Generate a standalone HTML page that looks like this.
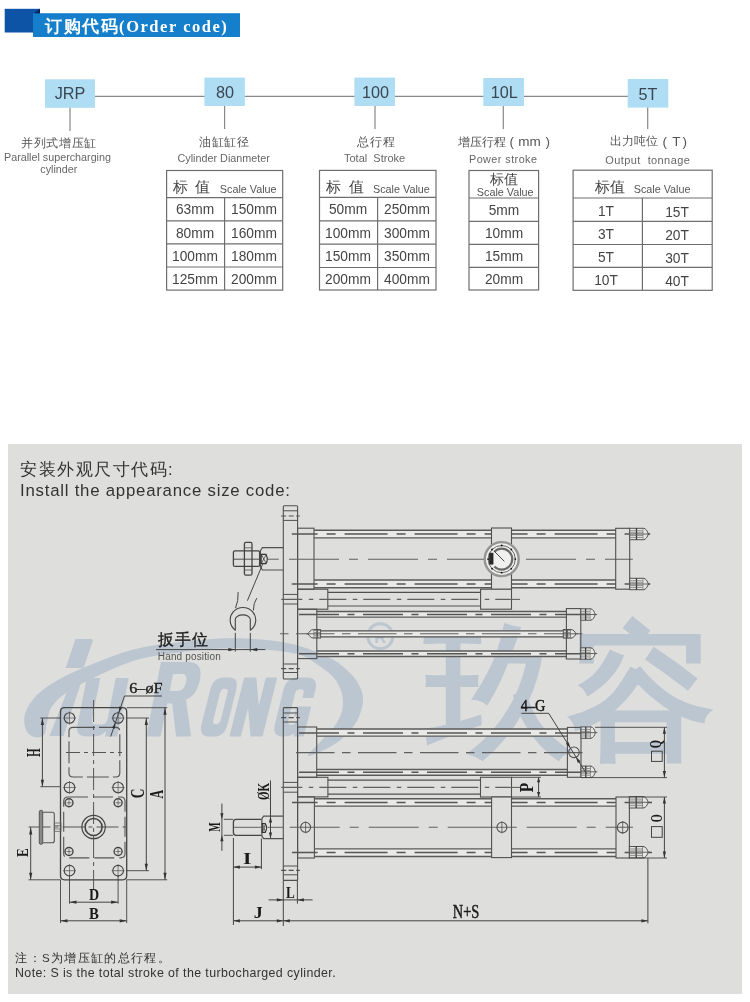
<!DOCTYPE html>
<html><head><meta charset="utf-8">
<style>
html,body{margin:0;padding:0;background:#fff;}
body{width:750px;height:1002px;overflow:hidden;position:relative;font-family:"Liberation Sans",sans-serif;}
svg{position:absolute;left:0;top:0;display:block;will-change:transform;}
.t{font-family:"Liberation Sans",sans-serif;}
.sf{font-family:"Liberation Serif",serif;}
</style></head>
<body>
<svg width="750" height="1002" viewBox="0 0 750 1002">
<!-- ===== HEADER ===== -->
<rect x="4.7" y="8.8" width="35.3" height="23.7" fill="#0d53a6"/>
<rect x="33" y="13.2" width="207" height="23.8" fill="#157fcb"/>
<polygon points="34,13.2 40,8.8 40,13.2" fill="#0b1f5c"/>
<text x="45" y="32" fill="#fff" font-size="16.5" font-weight="bold" class="sf" letter-spacing="1.53">订购代码(Order code)</text>

<!-- ===== ORDER CODE ===== -->
<g stroke="#888" stroke-width="1.2" fill="none">
<line x1="95" y1="96.4" x2="628" y2="96.4"/>
<line x1="70" y1="107" x2="70" y2="131"/>
<line x1="224.6" y1="106" x2="224.6" y2="129"/>
<line x1="375" y1="106" x2="375" y2="129"/>
<line x1="503.3" y1="106" x2="503.3" y2="129"/>
<line x1="647.7" y1="107" x2="647.7" y2="129"/>
</g>
<g fill="#afddf4">
<rect x="45" y="79.3" width="50" height="28.5"/>
<rect x="204.4" y="77.6" width="40.5" height="28.4"/>
<rect x="354.4" y="77.6" width="40.6" height="28.4"/>
<rect x="483.3" y="78" width="40.7" height="28"/>
<rect x="627.7" y="79" width="40.6" height="28.6"/>
</g>
<g class="t" fill="#3a4652" font-size="16.2" text-anchor="middle">
<text x="70" y="99.3">JRP</text>
<text x="225" y="98">80</text>
<text x="375.5" y="98">100</text>
<text x="504.3" y="98">10L</text>
<text x="648" y="99.5">5T</text>
</g>

<!-- captions -->
<g class="t" fill="#555" font-size="12">
<text x="21" y="146.6" letter-spacing="0.7">并列式增压缸</text>
<text x="199" y="145.7" letter-spacing="0.5">油缸缸径</text>
<text x="357.2" y="146.4" letter-spacing="0.8">总行程</text>
<text x="457.8" y="145.8">增压行程</text>
<text x="609.9" y="145">出力吨位</text>
<text x="509.5" y="146.2" font-size="13.5">(</text>
<text x="518.3" y="146" font-size="13.5">mm</text>
<text x="545.5" y="146.2" font-size="13.5">)</text>
<text x="662.5" y="145.5" font-size="13.5">(</text>
<text x="672.3" y="145.6" font-size="13.5">T</text>
<text x="682.5" y="145.5" font-size="13.5">)</text>
</g>
<g class="t" fill="#666" font-size="10.75">
<text x="4" y="161.2">Parallel supercharging</text>
<text x="40.3" y="173.2">cylinder</text>
<text x="177.5" y="161.6" font-size="10.8">Cylinder Dianmeter</text>
<text x="344" y="161.7" font-size="11" xml:space="preserve">Total  Stroke</text>
<text x="469" y="162.7" font-size="10.8" letter-spacing="0.45">Power stroke</text>
<text x="605.3" y="164.3" font-size="11" letter-spacing="0.4" xml:space="preserve">Output  tonnage</text>
</g>

<!-- tables -->
<g stroke="#6e6e6e" stroke-width="1.2" fill="none">
<rect x="166.6" y="170.5" width="116.1" height="119.6"/>
<line x1="166.6" y1="197.6" x2="282.7" y2="197.6"/>
<line x1="166.6" y1="220.8" x2="282.7" y2="220.8"/>
<line x1="166.6" y1="243.9" x2="282.7" y2="243.9"/>
<line x1="166.6" y1="267" x2="282.7" y2="267"/>
<line x1="224.6" y1="197.6" x2="224.6" y2="290.1"/>

<rect x="319.5" y="170.4" width="116.5" height="119.6"/>
<line x1="319.5" y1="197.4" x2="436" y2="197.4"/>
<line x1="319.5" y1="220.8" x2="436" y2="220.8"/>
<line x1="319.5" y1="244.2" x2="436" y2="244.2"/>
<line x1="319.5" y1="267.5" x2="436" y2="267.5"/>
<line x1="377.6" y1="197.4" x2="377.6" y2="290"/>

<rect x="469" y="170.5" width="69.6" height="119.5"/>
<line x1="469" y1="198" x2="538.6" y2="198"/>
<line x1="469" y1="221.4" x2="538.6" y2="221.4"/>
<line x1="469" y1="244.4" x2="538.6" y2="244.4"/>
<line x1="469" y1="267.3" x2="538.6" y2="267.3"/>

<rect x="573.1" y="170.2" width="139.1" height="120.1"/>
<line x1="573.1" y1="198" x2="712.2" y2="198"/>
<line x1="573.1" y1="221.4" x2="712.2" y2="221.4"/>
<line x1="573.1" y1="244.5" x2="712.2" y2="244.5"/>
<line x1="573.1" y1="267.3" x2="712.2" y2="267.3"/>
<line x1="642.4" y1="198" x2="642.4" y2="290.3"/>
</g>
<g class="t" fill="#444" font-size="14.5">
<text x="173" y="191.5" xml:space="preserve" letter-spacing="1.5">标 值</text>
<text x="325.6" y="191.5" xml:space="preserve" letter-spacing="2">标 值</text>
<text x="490" y="183.5" font-size="14">标值</text>
<text x="595" y="191.5">标值</text>
</g>
<g class="t" fill="#555" font-size="10.8">
<text x="219.8" y="192.7">Scale Value</text>
<text x="373" y="192.7">Scale Value</text>
<text x="476.8" y="195.5">Scale Value</text>
<text x="633.7" y="192.8">Scale Value</text>
</g>
<g class="t" fill="#444" font-size="13.75" text-anchor="middle">
<text x="195" y="214.4">63mm</text><text x="254" y="214.4">150mm</text>
<text x="195" y="237.6">80mm</text><text x="254" y="237.6">160mm</text>
<text x="195" y="260.7">100mm</text><text x="254" y="260.7">180mm</text>
<text x="195" y="283.8">125mm</text><text x="254" y="283.8">200mm</text>

<text x="348" y="214.4">50mm</text><text x="407" y="214.4">250mm</text>
<text x="348" y="237.6">100mm</text><text x="407" y="237.6">300mm</text>
<text x="348" y="260.9">150mm</text><text x="407" y="260.9">350mm</text>
<text x="348" y="284">200mm</text><text x="407" y="284">400mm</text>

<text x="504" y="214.8">5mm</text>
<text x="504" y="238">10mm</text>
<text x="504" y="261">15mm</text>
<text x="504" y="284">20mm</text>

<text x="606" y="215.7">1T</text><text x="677" y="217.2">15T</text>
<text x="606" y="238.8">3T</text><text x="677" y="240.3">20T</text>
<text x="606" y="261.8">5T</text><text x="677" y="263.3">30T</text>
<text x="606" y="284.6">10T</text><text x="677" y="286.1">40T</text>
</g>

<!-- ===== DRAWING PANEL ===== -->
<rect x="8" y="444" width="734" height="550" fill="#dededc"/>
<!--WM-->
<g fill="#bcc6d1" stroke="none">
<path d="M308,756 C309.67,756.83 323.67,750.5 330,747 C336.33,743.5 341.33,739.67 346,735 C350.67,730.33 355.17,724.67 358,719 C360.83,713.33 362.67,706.33 363,701 C363.33,695.67 362.17,691.67 360,687 C357.83,682.33 355,677.83 350,673 C345,668.17 339.67,662.83 330,658 C320.33,653.17 306.17,647.25 292,644 C277.83,640.75 260.33,639.17 245,638.5 C229.67,637.83 217.5,638.42 200,640 C182.5,641.58 157.5,644.17 140,648 C122.5,651.83 108.67,657.67 95,663 C81.33,668.33 67.83,674.5 58,680 C48.17,685.5 41.5,690.33 36,696 C30.5,701.67 26.67,708.33 25,714 C23.33,719.67 24.5,726.17 26,730 C27.5,733.83 31,736.17 34,737 C37,737.83 41.83,737.5 44,735 C46.17,732.5 45.5,727 47,722 C48.5,717 48.33,710.75 53,705 C57.67,699.25 62.17,694.67 75,687.5 C87.83,680.33 113.33,667.75 130,662 C146.67,656.25 159.67,655.25 175,653 C190.33,650.75 206.17,649 222,648.5 C237.83,648 257,648.92 270,650 C283,651.08 292,652.5 300,655 C308,657.5 312.33,661.17 318,665 C323.67,668.83 330,673.17 334,678 C338,682.83 340.67,688.5 342,694 C343.33,699.5 343.33,705.5 342,711 C340.67,716.5 337.67,721.83 334,727 C330.33,732.17 324.33,737.17 320,742 C315.67,746.83 306.33,755.17 308,756 Z"/>
<path d="M75.5,639 L91,639 Q93.5,639 92.6,641.5 L83.5,668 L65.7,668 Z"/>
<polygon points="70,684 80.5,684 63.5,736 49.5,736"/>
<path transform="translate(0,737) skewX(-11.31) translate(0,-737)" d="M75,678 L88.5,678 L88.5,719 Q88.5,724.5 94,724.5 L98.5,724.5 Q104,724.5 104,719 L104,678 L117,678 L117,736.5 L105,736.5 L105,731 Q101,736.5 93,736.5 L87,736.5 Q75,736.5 75,725 Z"/>
<path transform="translate(0,737) skewX(-11.31) translate(0,-737)" fill-rule="evenodd" d="M146,736.5 L146,662 L173,662 C183.5,662 188.5,668 188.5,680 C188.5,691 184.5,697 178.5,699.5 L191,736.5 L176,736.5 L165.5,703.5 L160.5,703.5 L160.5,736.5 Z M160.5,674 L170,674 C173.5,674 175,677 175,681.5 C175,687.5 173,691 169,691 L160.5,691 Z"/>
<path transform="translate(0,737) skewX(-14.04) translate(0,-737)" fill-rule="evenodd" d="M209,677.6 L214,677.6 Q224.4,677.6 224.4,690 L224.4,724 Q224.4,736.6 214,736.6 L209,736.6 Q198.4,736.6 198.4,724 L198.4,690 Q198.4,677.6 209,677.6 Z M212.7,688.8 Q209,688.8 209,693 L209,720 Q209,724.3 212.7,724.3 Q216.5,724.3 216.5,720 L216.5,693 Q216.5,688.8 212.7,688.8 Z"/>
<path transform="translate(0,737) skewX(-14.04) translate(0,-737)" d="M229.3,736.6 L229.3,677.6 L241.5,677.6 L251,706 L251,677.6 L262.4,677.6 L262.4,736.6 L250.5,736.6 L240.8,708 L240.8,736.6 Z"/>
<path transform="translate(0,737) skewX(-14.04) translate(0,-737)" fill-rule="evenodd" d="M283,677.6 L292,677.6 Q303.6,677.6 303.6,690 L303.6,698 L292.6,698 L292.6,693 Q292.6,689.3 288.4,689.3 Q284.2,689.3 284.2,693 L284.2,721 Q284.2,725 288.4,725 Q292.6,725 292.6,721 L292.6,716.5 L289,716.5 L289,706.5 L303.6,706.5 L303.6,736.6 L293.5,736.6 L293.5,733 Q290.5,736.6 283,736.6 Q271.7,736.6 271.7,724 L271.7,690 Q271.7,677.6 283,677.6 Z"/>
<circle cx="380.3" cy="636.2" r="12.5" fill="none" stroke="#bcc6d1" stroke-width="3"/>
<text x="380.3" y="642.5" font-family="Liberation Sans, sans-serif" font-weight="bold" font-size="17" text-anchor="middle">R</text>
<text x="425.2" y="744" font-family="Liberation Sans, sans-serif" font-weight="bold" font-size="147">玖</text>
<text x="567.7" y="743.6" font-family="Liberation Sans, sans-serif" font-weight="bold" font-size="147">容</text>
</g>
<!--/WM-->
<!--DRAW-->
<g stroke="#505050" stroke-width="1" fill="none" stroke-linecap="butt">
<rect x="314" y="530.2" width="301.7" height="7.6" fill="#e9e9e7" stroke="none"/>
<rect x="314" y="580" width="301.7" height="7.8" fill="#e9e9e7" stroke="none"/>
<rect x="316.8" y="611.6" width="249.6" height="5.6" fill="#e9e9e7" stroke="none"/>
<rect x="316.8" y="651" width="249.6" height="5.6" fill="#e9e9e7" stroke="none"/>
<rect x="320.6" y="630.8" width="242.7" height="6" fill="#e9e9e7" stroke="none"/>
<rect x="316.7" y="729" width="250.7" height="7.2" fill="#e9e9e7" stroke="none"/>
<rect x="316.7" y="769.5" width="250.7" height="5.7" fill="#e9e9e7" stroke="none"/>
<rect x="314.4" y="798.8" width="301.6" height="7.4" fill="#e9e9e7" stroke="none"/>
<rect x="314.4" y="848.8" width="301.6" height="7.6" fill="#e9e9e7" stroke="none"/>
<rect x="283.3" y="505.8" width="14.3" height="173.2" stroke-width="1.1" rx="1"/>
<line x1="283.3" y1="510.8" x2="297.6" y2="510.8"/>
<line x1="283.3" y1="520.4" x2="297.6" y2="520.4"/>
<line x1="283.3" y1="594.4" x2="297.6" y2="594.4"/>
<line x1="283.3" y1="604" x2="297.6" y2="604"/>
<line x1="283.3" y1="664" x2="297.6" y2="664"/>
<line x1="283.3" y1="672.5" x2="297.6" y2="672.5"/>
<line x1="281.2" y1="516" x2="299.8" y2="516" stroke-width="1.2" stroke-dasharray="5 2.5"/>
<line x1="281.2" y1="668.6" x2="299.8" y2="668.6" stroke-width="1.2" stroke-dasharray="5 2.5"/>
<rect x="297.6" y="528.2" width="16.4" height="61" stroke-width="1.1"/>
<line x1="314" y1="530.2" x2="491.5" y2="530.2" stroke-width="1.5" stroke="#5a5a5a"/>
<line x1="314" y1="537.8" x2="491.5" y2="537.8" stroke-width="1.3" stroke="#5a5a5a"/>
<line x1="314" y1="580" x2="491.5" y2="580" stroke-width="1.3" stroke="#5a5a5a"/>
<line x1="314" y1="587.8" x2="491.5" y2="587.8" stroke-width="1.5" stroke="#5a5a5a"/>
<line x1="511.5" y1="530.2" x2="615.7" y2="530.2" stroke-width="1.5" stroke="#5a5a5a"/>
<line x1="511.5" y1="537.8" x2="615.7" y2="537.8" stroke-width="1.3" stroke="#5a5a5a"/>
<line x1="511.5" y1="580" x2="615.7" y2="580" stroke-width="1.3" stroke="#5a5a5a"/>
<line x1="511.5" y1="587.8" x2="615.7" y2="587.8" stroke-width="1.5" stroke="#5a5a5a"/>
<line x1="291.8" y1="534" x2="491.5" y2="534" stroke-width="1.5" stroke="#555" stroke-dasharray="43 9 9 9" stroke-dashoffset="17.2"/>
<line x1="511.5" y1="534" x2="650" y2="534" stroke-width="1.5" stroke="#555" stroke-dasharray="43 9 9 9" stroke-dashoffset="26.9"/>
<line x1="291.8" y1="584" x2="491.5" y2="584" stroke-width="1.5" stroke="#555" stroke-dasharray="43 9 9 9" stroke-dashoffset="17.2"/>
<line x1="511.5" y1="584" x2="650" y2="584" stroke-width="1.5" stroke="#555" stroke-dasharray="43 9 9 9" stroke-dashoffset="26.9"/>
<line x1="267.6" y1="559.2" x2="278.8" y2="559.2" stroke="#606060"/>
<line x1="281" y1="559.2" x2="632.8" y2="559.2" stroke-width="1.1" stroke="#606060" stroke-dasharray="50 10 9 10" stroke-dashoffset="71"/>
<rect x="491.5" y="528" width="20" height="61.4" fill="#dededc" stroke-width="1.1"/>
<circle cx="501.7" cy="559.1" r="17" fill="#f0f0ef" stroke-width="2.4" stroke="#949494"/>
<circle cx="501.7" cy="559.1" r="13.6" stroke-width="0.9" stroke="#555"/>
<path d="M494.3,551.7 A10.5,10.5 0 1,1 494.3,566.5" stroke-width="2.2" stroke="#6a6a6a"/>
<line x1="494" y1="551" x2="504.3" y2="561.3" stroke-width="0.9" stroke="#333"/>
<rect x="489.6" y="553.2" width="3.4" height="10.9" fill="#2a2a2a" stroke-width="0.8" stroke="#222"/>
<circle cx="515.3" cy="559.1" r="0.9" fill="#111" stroke="none"/>
<circle cx="511.32" cy="568.72" r="0.9" fill="#111" stroke="none"/>
<circle cx="501.7" cy="572.7" r="0.9" fill="#111" stroke="none"/>
<circle cx="492.08" cy="568.72" r="0.9" fill="#111" stroke="none"/>
<circle cx="488.1" cy="559.1" r="0.9" fill="#111" stroke="none"/>
<circle cx="492.08" cy="549.48" r="0.9" fill="#111" stroke="none"/>
<circle cx="501.7" cy="545.5" r="0.9" fill="#111" stroke="none"/>
<circle cx="511.32" cy="549.48" r="0.9" fill="#111" stroke="none"/>
<rect x="615.7" y="528.3" width="14" height="60.9" stroke-width="1.1"/>
<rect x="629.7" y="528.3" width="13.6" height="11.4" fill="#e6e6e4"/>
<line x1="636.5" y1="528.3" x2="636.5" y2="539.7" stroke-width="1.3" stroke="#333"/>
<line x1="629.7" y1="530.8" x2="643.3" y2="530.8" stroke-width="0.7" stroke="#666"/>
<line x1="629.7" y1="532.8" x2="643.3" y2="532.8" stroke-width="0.7" stroke="#666"/>
<line x1="629.7" y1="535.4" x2="643.3" y2="535.4" stroke-width="0.7" stroke="#666"/>
<line x1="629.7" y1="537.4" x2="643.3" y2="537.4" stroke-width="0.7" stroke="#666"/>
<path d="M643.3,528.3 C646.05,528.3 647.55,531.49 648.3,534 C647.55,536.51 646.05,539.7 643.3,539.7" fill="#e6e6e4"/>
<line x1="629.7" y1="534" x2="650.3" y2="534" stroke-width="0.9" stroke="#555"/>
<rect x="629.7" y="578.3" width="13.6" height="11.4" fill="#e6e6e4"/>
<line x1="636.5" y1="578.3" x2="636.5" y2="589.7" stroke-width="1.3" stroke="#333"/>
<line x1="629.7" y1="580.8" x2="643.3" y2="580.8" stroke-width="0.7" stroke="#666"/>
<line x1="629.7" y1="582.8" x2="643.3" y2="582.8" stroke-width="0.7" stroke="#666"/>
<line x1="629.7" y1="585.4" x2="643.3" y2="585.4" stroke-width="0.7" stroke="#666"/>
<line x1="629.7" y1="587.4" x2="643.3" y2="587.4" stroke-width="0.7" stroke="#666"/>
<path d="M643.3,578.3 C646.05,578.3 647.55,581.49 648.3,584 C647.55,586.51 646.05,589.7 643.3,589.7" fill="#e6e6e4"/>
<line x1="629.7" y1="584" x2="650.3" y2="584" stroke-width="0.9" stroke="#555"/>
<rect x="297.6" y="589.2" width="30.2" height="20" stroke-width="1.1"/>
<line x1="327.8" y1="592.4" x2="480.6" y2="592.4" stroke-width="1.2"/>
<line x1="327.8" y1="606" x2="480.6" y2="606" stroke-width="1.2"/>
<rect x="480.6" y="589.2" width="30.9" height="20" fill="#dededc" stroke-width="1.1"/>
<line x1="281.2" y1="599.4" x2="520" y2="599.4" stroke-width="1.1" stroke="#606060" stroke-dasharray="27 6.5 4.5 6" stroke-dashoffset="5.9"/>
<rect x="297.6" y="609.2" width="19.2" height="49.4" stroke-width="1.1"/>
<line x1="316.8" y1="611.6" x2="566.4" y2="611.6" stroke-width="1.5" stroke="#5a5a5a"/>
<line x1="316.8" y1="617.2" x2="566.4" y2="617.2" stroke-width="1.3" stroke="#5a5a5a"/>
<line x1="316.8" y1="651" x2="566.4" y2="651" stroke-width="1.3" stroke="#5a5a5a"/>
<line x1="316.8" y1="656.6" x2="566.4" y2="656.6" stroke-width="1.5" stroke="#5a5a5a"/>
<line x1="293.2" y1="614.6" x2="600" y2="614.6" stroke-width="1.5" stroke="#555" stroke-dasharray="40 8.5 7 8.5" stroke-dashoffset="58.2"/>
<line x1="293.2" y1="653.8" x2="600" y2="653.8" stroke-width="1.5" stroke="#555" stroke-dasharray="40 8.5 7 8.5" stroke-dashoffset="58.2"/>
<line x1="320.6" y1="630.8" x2="563.3" y2="630.8" stroke-width="1.2"/>
<line x1="320.6" y1="636.8" x2="563.3" y2="636.8" stroke-width="1.2"/>
<line x1="277" y1="633.8" x2="583.9" y2="633.8" stroke-width="1.1" stroke="#606060" stroke-dasharray="38.5 7.5 8.5 7.5" stroke-dashoffset="43"/>
<rect x="313.6" y="629.6" width="7" height="8.4" fill="#e6e6e4"/>
<line x1="317.1" y1="629.6" x2="317.1" y2="638" stroke-width="1.3" stroke="#333"/>
<line x1="313.6" y1="630.6" x2="320.6" y2="630.6" stroke-width="0.7" stroke="#666"/>
<line x1="313.6" y1="632.6" x2="320.6" y2="632.6" stroke-width="0.7" stroke="#666"/>
<line x1="313.6" y1="635.2" x2="320.6" y2="635.2" stroke-width="0.7" stroke="#666"/>
<line x1="313.6" y1="637.2" x2="320.6" y2="637.2" stroke-width="0.7" stroke="#666"/>
<path d="M313.6,629.6 C310.63,629.6 309.01,631.95 308.2,633.8 C309.01,635.65 310.63,638 313.6,638" fill="#e6e6e4"/>
<line x1="306.2" y1="633.8" x2="320.6" y2="633.8" stroke-width="0.9" stroke="#555"/>
<rect x="563.3" y="629.5" width="7.5" height="8.6" fill="#e6e6e4"/>
<line x1="567.05" y1="629.5" x2="567.05" y2="638.1" stroke-width="1.3" stroke="#333"/>
<line x1="563.3" y1="630.6" x2="570.8" y2="630.6" stroke-width="0.7" stroke="#666"/>
<line x1="563.3" y1="632.6" x2="570.8" y2="632.6" stroke-width="0.7" stroke="#666"/>
<line x1="563.3" y1="635.2" x2="570.8" y2="635.2" stroke-width="0.7" stroke="#666"/>
<line x1="563.3" y1="637.2" x2="570.8" y2="637.2" stroke-width="0.7" stroke="#666"/>
<path d="M570.8,629.5 C573.55,629.5 575.05,631.91 575.8,633.8 C575.05,635.69 573.55,638.1 570.8,638.1" fill="#e6e6e4"/>
<line x1="563.3" y1="633.8" x2="577.8" y2="633.8" stroke-width="0.9" stroke="#555"/>
<rect x="566.4" y="608.6" width="14.4" height="50.4" stroke-width="1.1"/>
<rect x="580.8" y="608.8" width="9.6" height="11.4" fill="#e6e6e4"/>
<line x1="585.6" y1="608.8" x2="585.6" y2="620.2" stroke-width="1.3" stroke="#333"/>
<line x1="580.8" y1="611.3" x2="590.4" y2="611.3" stroke-width="0.7" stroke="#666"/>
<line x1="580.8" y1="613.3" x2="590.4" y2="613.3" stroke-width="0.7" stroke="#666"/>
<line x1="580.8" y1="615.9" x2="590.4" y2="615.9" stroke-width="0.7" stroke="#666"/>
<line x1="580.8" y1="617.9" x2="590.4" y2="617.9" stroke-width="0.7" stroke="#666"/>
<path d="M590.4,608.8 C593.04,608.8 594.48,611.99 595.2,614.5 C594.48,617.01 593.04,620.2 590.4,620.2" fill="#e6e6e4"/>
<line x1="580.8" y1="614.5" x2="597.2" y2="614.5" stroke-width="0.9" stroke="#555"/>
<rect x="580.8" y="647.8" width="9.6" height="11.4" fill="#e6e6e4"/>
<line x1="585.6" y1="647.8" x2="585.6" y2="659.2" stroke-width="1.3" stroke="#333"/>
<line x1="580.8" y1="650.3" x2="590.4" y2="650.3" stroke-width="0.7" stroke="#666"/>
<line x1="580.8" y1="652.3" x2="590.4" y2="652.3" stroke-width="0.7" stroke="#666"/>
<line x1="580.8" y1="654.9" x2="590.4" y2="654.9" stroke-width="0.7" stroke="#666"/>
<line x1="580.8" y1="656.9" x2="590.4" y2="656.9" stroke-width="0.7" stroke="#666"/>
<path d="M590.4,647.8 C593.04,647.8 594.48,650.99 595.2,653.5 C594.48,656.01 593.04,659.2 590.4,659.2" fill="#e6e6e4"/>
<line x1="580.8" y1="653.5" x2="597.2" y2="653.5" stroke-width="0.9" stroke="#555"/>
<path d="M283.3,547.6 L262.4,547.6 L260.4,550.8 L260.4,566.8 L262.4,570 L283.3,570" stroke-width="1.2"/>
<path d="M261.2,554.4 L266,554.4 Q268.6,559 266,563.6 L261.2,563.6 Z" stroke-width="1.1" stroke="#333"/>
<line x1="261.4" y1="554.6" x2="266.2" y2="563.4" stroke-width="0.7" stroke="#333"/>
<line x1="261.4" y1="563.4" x2="266.2" y2="554.6" stroke-width="0.7" stroke="#333"/>
<rect x="233.4" y="550.8" width="26.2" height="15.6" stroke-width="1.3" stroke="#444" rx="1.5"/>
<line x1="233.4" y1="559.2" x2="259.6" y2="559.2"/>
<rect x="244.4" y="542.4" width="7.6" height="32.8" stroke-width="1.3" stroke="#444" rx="1.5"/>
<line x1="244.4" y1="547.8" x2="252" y2="547.8" stroke-width="0.8"/>
<line x1="244.4" y1="570" x2="252" y2="570" stroke-width="0.8"/>
<line x1="262.6" y1="564.2" x2="247.4" y2="600.7" stroke="#444"/>
<path d="M235.5,630.3 A12.8,12.6 0 1,1 250.4,630.3" stroke-width="1.1" stroke="#444"/>
<path d="M235.3,630.5 L235.3,619.4 A7.5,4.5 0 0,1 250.3,619.4 L250.3,630.5" stroke-width="1.1" stroke="#444"/>
<path d="M238.1,592.1 Q238.6,601 235.5,608.2" stroke="#444"/>
<path d="M256.8,598.1 Q253.4,603 253.4,610.4" stroke="#444"/>
<line x1="235.3" y1="632.9" x2="235.3" y2="651.6" stroke="#444"/>
<line x1="250.3" y1="632.9" x2="250.3" y2="651.6" stroke="#444"/>
<line x1="156" y1="649.6" x2="265.4" y2="649.6" stroke="#444"/>
<polygon points="235.3,649.6 228.3,648 228.3,651.2" fill="#333" stroke="none"/>
<polygon points="250.3,649.6 257.3,648 257.3,651.2" fill="#333" stroke="none"/>
<rect x="283.3" y="707.6" width="14.3" height="172.8" stroke-width="1.1" rx="1"/>
<line x1="283.3" y1="713" x2="297.6" y2="713"/>
<line x1="283.3" y1="722" x2="297.6" y2="722"/>
<line x1="283.3" y1="782.4" x2="297.6" y2="782.4"/>
<line x1="283.3" y1="792.2" x2="297.6" y2="792.2"/>
<line x1="283.3" y1="866" x2="297.6" y2="866"/>
<line x1="283.3" y1="874.8" x2="297.6" y2="874.8"/>
<line x1="281.2" y1="717.6" x2="299.8" y2="717.6" stroke-width="1.2" stroke-dasharray="5 2.5"/>
<line x1="281.2" y1="870.4" x2="299.8" y2="870.4" stroke-width="1.2" stroke-dasharray="5 2.5"/>
<rect x="297.6" y="727" width="19.1" height="50.3" stroke-width="1.1"/>
<line x1="316.7" y1="729" x2="567.4" y2="729" stroke-width="1.5" stroke="#5a5a5a"/>
<line x1="316.7" y1="736.2" x2="567.4" y2="736.2" stroke-width="1.3" stroke="#5a5a5a"/>
<line x1="316.7" y1="769.5" x2="567.4" y2="769.5" stroke-width="1.3" stroke="#5a5a5a"/>
<line x1="316.7" y1="775.2" x2="567.4" y2="775.2" stroke-width="1.5" stroke="#5a5a5a"/>
<line x1="292.9" y1="733" x2="600" y2="733" stroke-width="1.5" stroke="#555" stroke-dasharray="40 8.5 7 8.5" stroke-dashoffset="57.9"/>
<line x1="292.9" y1="772.2" x2="600" y2="772.2" stroke-width="1.5" stroke="#555" stroke-dasharray="40 8.5 7 8.5" stroke-dashoffset="57.9"/>
<line x1="289" y1="752.6" x2="583" y2="752.6" stroke-width="1.1" stroke="#606060" stroke-dasharray="38.5 7.5 8.5 7.5" stroke-dashoffset="55"/>
<rect x="567.4" y="727.4" width="13.6" height="49.9" stroke-width="1.1"/>
<circle cx="574" cy="752.3" r="5.3" stroke-width="1.1"/>
<rect x="581" y="726.9" width="9.6" height="11.4" fill="#e6e6e4"/>
<line x1="585.8" y1="726.9" x2="585.8" y2="738.3" stroke-width="1.3" stroke="#333"/>
<line x1="581" y1="729.4" x2="590.6" y2="729.4" stroke-width="0.7" stroke="#666"/>
<line x1="581" y1="731.4" x2="590.6" y2="731.4" stroke-width="0.7" stroke="#666"/>
<line x1="581" y1="734" x2="590.6" y2="734" stroke-width="0.7" stroke="#666"/>
<line x1="581" y1="736" x2="590.6" y2="736" stroke-width="0.7" stroke="#666"/>
<path d="M590.6,726.9 C593.24,726.9 594.68,730.09 595.4,732.6 C594.68,735.11 593.24,738.3 590.6,738.3" fill="#e6e6e4"/>
<line x1="581" y1="732.6" x2="597.4" y2="732.6" stroke-width="0.9" stroke="#555"/>
<rect x="581" y="766.1" width="9.6" height="11.4" fill="#e6e6e4"/>
<line x1="585.8" y1="766.1" x2="585.8" y2="777.5" stroke-width="1.3" stroke="#333"/>
<line x1="581" y1="768.6" x2="590.6" y2="768.6" stroke-width="0.7" stroke="#666"/>
<line x1="581" y1="770.6" x2="590.6" y2="770.6" stroke-width="0.7" stroke="#666"/>
<line x1="581" y1="773.2" x2="590.6" y2="773.2" stroke-width="0.7" stroke="#666"/>
<line x1="581" y1="775.2" x2="590.6" y2="775.2" stroke-width="0.7" stroke="#666"/>
<path d="M590.6,766.1 C593.24,766.1 594.68,769.29 595.4,771.8 C594.68,774.31 593.24,777.5 590.6,777.5" fill="#e6e6e4"/>
<line x1="581" y1="771.8" x2="597.4" y2="771.8" stroke-width="0.9" stroke="#555"/>
<rect x="297.6" y="777.3" width="30.3" height="19.6" stroke-width="1.1"/>
<line x1="327.9" y1="780.2" x2="480.5" y2="780.2" stroke-width="1.2"/>
<line x1="327.9" y1="794.1" x2="480.5" y2="794.1" stroke-width="1.2"/>
<rect x="480.5" y="777.3" width="31" height="19.7" fill="#dededc" stroke-width="1.1"/>
<line x1="281.2" y1="787.4" x2="520" y2="787.4" stroke-width="1.1" stroke="#606060" stroke-dasharray="27 6.5 4.5 6" stroke-dashoffset="5.9"/>
<rect x="297.6" y="796.9" width="16.8" height="61.1" stroke-width="1.1"/>
<line x1="314.4" y1="798.8" x2="491.6" y2="798.8" stroke-width="1.5" stroke="#5a5a5a"/>
<line x1="314.4" y1="806.2" x2="491.6" y2="806.2" stroke-width="1.3" stroke="#5a5a5a"/>
<line x1="314.4" y1="848.8" x2="491.6" y2="848.8" stroke-width="1.3" stroke="#5a5a5a"/>
<line x1="314.4" y1="856.4" x2="491.6" y2="856.4" stroke-width="1.5" stroke="#5a5a5a"/>
<line x1="511.5" y1="798.8" x2="616" y2="798.8" stroke-width="1.5" stroke="#5a5a5a"/>
<line x1="511.5" y1="806.2" x2="616" y2="806.2" stroke-width="1.3" stroke="#5a5a5a"/>
<line x1="511.5" y1="848.8" x2="616" y2="848.8" stroke-width="1.3" stroke="#5a5a5a"/>
<line x1="511.5" y1="856.4" x2="616" y2="856.4" stroke-width="1.5" stroke="#5a5a5a"/>
<line x1="292" y1="802.6" x2="491.6" y2="802.6" stroke-width="1.5" stroke="#555" stroke-dasharray="43 9 9 9" stroke-dashoffset="17.4"/>
<line x1="511.5" y1="802.6" x2="652" y2="802.6" stroke-width="1.5" stroke="#555" stroke-dasharray="43 9 9 9" stroke-dashoffset="26.9"/>
<line x1="292" y1="852.6" x2="491.6" y2="852.6" stroke-width="1.5" stroke="#555" stroke-dasharray="43 9 9 9" stroke-dashoffset="17.4"/>
<line x1="511.5" y1="852.6" x2="652" y2="852.6" stroke-width="1.5" stroke="#555" stroke-dasharray="43 9 9 9" stroke-dashoffset="26.9"/>
<line x1="289" y1="827.3" x2="633" y2="827.3" stroke-width="1.1" stroke="#606060" stroke-dasharray="50 10 9 10" stroke-dashoffset="78.3"/>
<circle cx="305.6" cy="827.3" r="5" stroke-width="1.1"/>
<line x1="305.6" y1="821.3" x2="305.6" y2="833.3" stroke-width="0.8"/>
<rect x="491.6" y="797" width="19.9" height="60.6" fill="#dededc" stroke-width="1.1"/>
<circle cx="501.9" cy="827.3" r="5" stroke-width="1.1"/>
<line x1="501.9" y1="821.3" x2="501.9" y2="833.3" stroke-width="0.8"/>
<line x1="491.6" y1="827.3" x2="511.5" y2="827.3" stroke-width="0.8"/>
<rect x="616" y="797" width="13.4" height="61" stroke-width="1.1"/>
<circle cx="622.7" cy="827.5" r="5.4" stroke-width="1.1"/>
<line x1="622.7" y1="821" x2="622.7" y2="834" stroke-width="0.8"/>
<rect x="629.4" y="796.6" width="13.6" height="11.4" fill="#e6e6e4"/>
<line x1="636.2" y1="796.6" x2="636.2" y2="808" stroke-width="1.3" stroke="#333"/>
<line x1="629.4" y1="799.1" x2="643" y2="799.1" stroke-width="0.7" stroke="#666"/>
<line x1="629.4" y1="801.1" x2="643" y2="801.1" stroke-width="0.7" stroke="#666"/>
<line x1="629.4" y1="803.7" x2="643" y2="803.7" stroke-width="0.7" stroke="#666"/>
<line x1="629.4" y1="805.7" x2="643" y2="805.7" stroke-width="0.7" stroke="#666"/>
<path d="M643,796.6 C645.86,796.6 647.42,799.79 648.2,802.3 C647.42,804.81 645.86,808 643,808" fill="#e6e6e4"/>
<line x1="629.4" y1="802.3" x2="650.2" y2="802.3" stroke-width="0.9" stroke="#555"/>
<rect x="629.4" y="846.5" width="13.6" height="11.4" fill="#e6e6e4"/>
<line x1="636.2" y1="846.5" x2="636.2" y2="857.9" stroke-width="1.3" stroke="#333"/>
<line x1="629.4" y1="849" x2="643" y2="849" stroke-width="0.7" stroke="#666"/>
<line x1="629.4" y1="851" x2="643" y2="851" stroke-width="0.7" stroke="#666"/>
<line x1="629.4" y1="853.6" x2="643" y2="853.6" stroke-width="0.7" stroke="#666"/>
<line x1="629.4" y1="855.6" x2="643" y2="855.6" stroke-width="0.7" stroke="#666"/>
<path d="M643,846.5 C645.86,846.5 647.42,849.69 648.2,852.2 C647.42,854.71 645.86,857.9 643,857.9" fill="#e6e6e4"/>
<line x1="629.4" y1="852.2" x2="650.2" y2="852.2" stroke-width="0.9" stroke="#555"/>
<path d="M283.3,816.2 L263.6,816.2 L261.9,818.6 L261.9,836.2 L263.6,838.6 L283.3,838.6" stroke-width="1.2"/>
<path d="M262.2,823.6 L265.2,823.6 Q268,828 265.2,832.4 L262.2,832.4 Z" stroke-width="1.1" stroke="#333"/>
<line x1="262.4" y1="823.8" x2="265.6" y2="832.2" stroke-width="0.7" stroke="#333"/>
<line x1="262.4" y1="832.2" x2="265.6" y2="823.8" stroke-width="0.7" stroke="#333"/>
<path d="M261.4,819.3 L236,819.3 Q233.4,819.3 233.4,822 L233.4,832.6 Q233.4,835.3 236,835.3 L261.4,835.3" stroke-width="1.3" stroke="#444"/>
<line x1="233.4" y1="827.3" x2="261.4" y2="827.3" stroke-width="0.9" stroke="#555"/>
<line x1="267.5" y1="827.3" x2="283" y2="827.3" stroke-width="0.9" stroke="#555"/>
<line x1="270.5" y1="780.4" x2="270.5" y2="838.6" stroke="#444"/>
<polygon points="270.5,816.4 268.9,822.4 272.1,822.4" fill="#333" stroke="none"/>
<polygon points="270.5,838.4 268.9,832.4 272.1,832.4" fill="#333" stroke="none"/>
<text x="-0.34" y="0" font-family="Liberation Serif, serif" font-size="17.02" font-weight="bold" text-anchor="middle" fill="#1a1a1a" stroke="none" transform="translate(268.8,791.2) rotate(-90) scale(0.647,1)">ØK</text>
<line x1="223.8" y1="819.3" x2="233" y2="819.3" stroke-width="0.9" stroke="#444"/>
<line x1="223.8" y1="835.3" x2="233" y2="835.3" stroke-width="0.9" stroke="#444"/>
<line x1="221.9" y1="803.6" x2="221.9" y2="850.8" stroke="#444"/>
<polygon points="221.9,819.3 220.3,813.3 223.5,813.3" fill="#333" stroke="none"/>
<polygon points="221.9,835.3 220.3,841.3 223.5,841.3" fill="#333" stroke="none"/>
<text x="0.11" y="0" font-family="Liberation Serif, serif" font-size="17.02" font-weight="bold" text-anchor="middle" fill="#1a1a1a" stroke="none" transform="translate(219.7,827) rotate(-90) scale(0.589,1)">M</text>
<line x1="233.4" y1="838" x2="233.4" y2="925" stroke="#444"/>
<line x1="261.4" y1="838.6" x2="261.4" y2="869.2" stroke="#444"/>
<line x1="233.4" y1="867.1" x2="261.4" y2="867.1" stroke="#444"/>
<polygon points="233.4,867.1 239.9,865.5 239.9,868.7" fill="#333" stroke="none"/>
<polygon points="261.4,867.1 254.9,865.5 254.9,868.7" fill="#333" stroke="none"/>
<text x="0.01" y="0" font-family="Liberation Serif, serif" font-size="17.02" font-weight="bold" text-anchor="middle" fill="#1a1a1a" stroke="none" transform="translate(247.2,864.4) scale(1.267,1)">I</text>
<line x1="233.4" y1="920.8" x2="647.9" y2="920.8" stroke="#444"/>
<polygon points="233.4,920.8 239.9,919.2 239.9,922.4" fill="#333" stroke="none"/>
<polygon points="283.3,920.8 276.8,919.2 276.8,922.4" fill="#333" stroke="none"/>
<polygon points="283.3,920.8 289.8,919.2 289.8,922.4" fill="#333" stroke="none"/>
<polygon points="647.9,920.8 641.4,919.2 641.4,922.4" fill="#333" stroke="none"/>
<line x1="283.3" y1="880.4" x2="283.3" y2="926" stroke="#444"/>
<text x="-0.14" y="0" font-family="Liberation Serif, serif" font-size="17.02" font-weight="bold" text-anchor="middle" fill="#1a1a1a" stroke="none" transform="translate(258.3,918) scale(1.057,1)">J</text>
<text x="0.31" y="0" font-family="Liberation Serif, serif" font-size="18.24" font-weight="normal" text-anchor="middle" fill="#1a1a1a" stroke="#1a1a1a" stroke-width="0.45" transform="translate(465.8,918.4) scale(0.790,1)">N+S</text>
<line x1="647.9" y1="858" x2="647.9" y2="923.3" stroke="#444"/>
<line x1="297.4" y1="880.4" x2="297.4" y2="903.6" stroke="#444"/>
<line x1="268.6" y1="899.9" x2="312.6" y2="899.9" stroke="#444"/>
<polygon points="283.3,899.9 276.8,898.3 276.8,901.5" fill="#333" stroke="none"/>
<polygon points="297.4,899.9 303.9,898.3 303.9,901.5" fill="#333" stroke="none"/>
<text x="0.22" y="0" font-family="Liberation Serif, serif" font-size="17.02" font-weight="bold" text-anchor="middle" fill="#1a1a1a" stroke="none" transform="translate(290.2,898) scale(0.774,1)">L</text>
<line x1="511.5" y1="777.3" x2="541" y2="777.3" stroke-width="0.9" stroke="#444"/>
<line x1="511.5" y1="797" x2="541" y2="797" stroke-width="0.9" stroke="#444"/>
<line x1="538.6" y1="777.3" x2="538.6" y2="797" stroke="#444"/>
<polygon points="538.6,777.3 537,782.3 540.2,782.3" fill="#333" stroke="none"/>
<polygon points="538.6,797 537,792 540.2,792" fill="#333" stroke="none"/>
<text x="0.11" y="0" font-family="Liberation Serif, serif" font-size="19" font-weight="bold" text-anchor="middle" fill="#1a1a1a" stroke="none" transform="translate(533.2,787.5) rotate(-90) scale(0.820,1)">P</text>
<line x1="595" y1="727.3" x2="667" y2="727.3" stroke-width="0.9" stroke="#444"/>
<line x1="581" y1="777.6" x2="667" y2="777.6" stroke-width="0.9" stroke="#444"/>
<line x1="664.4" y1="727.3" x2="664.4" y2="777.6" stroke="#444"/>
<polygon points="664.4,727.3 662.8,733.8 666,733.8" fill="#333" stroke="none"/>
<polygon points="664.4,777.6 662.8,771.1 666,771.1" fill="#333" stroke="none"/>
<text x="-0.04" y="0" font-family="Liberation Serif, serif" font-size="17.63" font-weight="bold" text-anchor="middle" fill="#1a1a1a" stroke="none" transform="translate(660.5,744.1) rotate(-90) scale(0.597,1)">Q</text>
<rect x="651.5" y="751.2" width="10.7" height="10.2" stroke="#444"/>
<line x1="629.4" y1="797" x2="667" y2="797" stroke-width="0.9" stroke="#444"/>
<line x1="629.4" y1="858" x2="667" y2="858" stroke-width="0.9" stroke="#444"/>
<line x1="664.4" y1="797" x2="664.4" y2="858" stroke="#444"/>
<polygon points="664.4,797 662.8,803.5 666,803.5" fill="#333" stroke="none"/>
<polygon points="664.4,858 662.8,851.5 666,851.5" fill="#333" stroke="none"/>
<text x="0.01" y="0" font-family="Liberation Serif, serif" font-size="17.63" font-weight="bold" text-anchor="middle" fill="#1a1a1a" stroke="none" transform="translate(661.9,818.3) rotate(-90) scale(0.585,1)">O</text>
<rect x="651.5" y="826.6" width="10.7" height="10.7" stroke="#444"/>
<text x="0.11" y="0" font-family="Liberation Serif, serif" font-size="17.33" font-weight="normal" text-anchor="middle" fill="#1a1a1a" stroke="#1a1a1a" stroke-width="0.45" transform="translate(533,710.7) scale(0.829,1)">4–G</text>
<line x1="521.3" y1="713.3" x2="548.7" y2="713.3" stroke="#444"/>
<line x1="548.7" y1="713.3" x2="586.5" y2="773.8" stroke="#444"/>
<polygon points="570.36,747.99 565.83,743.75 568.54,742.05" fill="#333" stroke="none"/>
<polygon points="575.98,756.97 580.51,761.22 577.8,762.91" fill="#333" stroke="none"/>
<path d="M60.5,711.7 Q60.5,707.7 64.5,707.7 L122.7,707.7 Q126.7,707.7 126.7,711.7 L126.7,875.8 Q126.7,879.8 122.7,879.8 L64.5,879.8 Q60.5,879.8 60.5,875.8 Z" stroke-width="1.3" stroke="#444"/>
<line x1="93.6" y1="700" x2="93.6" y2="890" stroke="#555" stroke-dasharray="22 4 4 4"/>
<path d="M73,727.4 L115.8,727.4 Q119.8,727.4 119.8,731.4 L119.8,773 Q119.8,777 115.8,777 L73,777 Q69,777 69,773 L69,731.4 Q69,727.4 73,727.4 Z" stroke-width="1.1" stroke="#555" stroke-dasharray="22 4"/>
<line x1="66" y1="752.5" x2="122" y2="752.5" stroke="#555" stroke-dasharray="14 4 4 4"/>
<path d="M68,797 L120.7,797 Q125,797 125,801.3 L125,853.6 Q125,857.9 120.7,857.9 L68,857.9 Q63.7,857.9 63.7,853.6 L63.7,801.3 Q63.7,797 68,797 Z" stroke-width="1.1" stroke="#555" stroke-dasharray="20 5"/>
<line x1="28.5" y1="827" x2="129.9" y2="827" stroke="#555" stroke-dasharray="22 4 4 4"/>
<circle cx="69.5" cy="718" r="5.3" stroke-width="1.1" stroke="#444"/>
<line x1="63" y1="718" x2="76" y2="718" stroke-width="0.7"/>
<line x1="69.5" y1="711.5" x2="69.5" y2="724.5" stroke-width="0.7"/>
<circle cx="118.1" cy="718" r="5.3" stroke-width="1.1" stroke="#444"/>
<line x1="111.6" y1="718" x2="124.6" y2="718" stroke-width="0.7"/>
<line x1="118.1" y1="711.5" x2="118.1" y2="724.5" stroke-width="0.7"/>
<circle cx="69.5" cy="787.5" r="5.3" stroke-width="1.1" stroke="#444"/>
<line x1="63" y1="787.5" x2="76" y2="787.5" stroke-width="0.7"/>
<line x1="69.5" y1="781" x2="69.5" y2="794" stroke-width="0.7"/>
<circle cx="118.1" cy="787.5" r="5.3" stroke-width="1.1" stroke="#444"/>
<line x1="111.6" y1="787.5" x2="124.6" y2="787.5" stroke-width="0.7"/>
<line x1="118.1" y1="781" x2="118.1" y2="794" stroke-width="0.7"/>
<circle cx="69.5" cy="870.7" r="5.3" stroke-width="1.1" stroke="#444"/>
<line x1="63" y1="870.7" x2="76" y2="870.7" stroke-width="0.7"/>
<line x1="69.5" y1="864.2" x2="69.5" y2="877.2" stroke-width="0.7"/>
<circle cx="118.1" cy="870.7" r="5.3" stroke-width="1.1" stroke="#444"/>
<line x1="111.6" y1="870.7" x2="124.6" y2="870.7" stroke-width="0.7"/>
<line x1="118.1" y1="864.2" x2="118.1" y2="877.2" stroke-width="0.7"/>
<circle cx="69" cy="802.8" r="4" stroke-width="1.4" stroke="#444"/>
<line x1="66.5" y1="802.8" x2="71.5" y2="802.8" stroke-width="0.7"/>
<line x1="69" y1="800.3" x2="69" y2="805.3" stroke-width="0.7"/>
<circle cx="118.1" cy="802.8" r="4" stroke-width="1.4" stroke="#444"/>
<line x1="115.6" y1="802.8" x2="120.6" y2="802.8" stroke-width="0.7"/>
<line x1="118.1" y1="800.3" x2="118.1" y2="805.3" stroke-width="0.7"/>
<circle cx="69" cy="851.5" r="4" stroke-width="1.4" stroke="#444"/>
<line x1="66.5" y1="851.5" x2="71.5" y2="851.5" stroke-width="0.7"/>
<line x1="69" y1="849" x2="69" y2="854" stroke-width="0.7"/>
<circle cx="118.1" cy="851.5" r="4" stroke-width="1.4" stroke="#444"/>
<line x1="115.6" y1="851.5" x2="120.6" y2="851.5" stroke-width="0.7"/>
<line x1="118.1" y1="849" x2="118.1" y2="854" stroke-width="0.7"/>
<circle cx="93.6" cy="827" r="11.7" stroke-width="1.2" stroke="#444"/>
<circle cx="93.6" cy="827" r="8.5" stroke-width="1.6" stroke="#444"/>
<rect x="39.3" y="810.3" width="3.4" height="34" fill="#8a8a8a" stroke="#555" rx="1.5"/>
<path d="M42.7,812.3 L52.3,812.3 Q54.3,812.3 54.3,814.3 L54.3,840.7 Q54.3,842.7 52.3,842.7 L42.7,842.7" stroke-width="1.1" stroke="#555"/>
<rect x="54.3" y="823" width="6.7" height="8.3" stroke-width="0.8" stroke="#666"/>
<line x1="54.3" y1="825.5" x2="61" y2="825.5" stroke-width="0.6"/>
<line x1="54.3" y1="829" x2="61" y2="829" stroke-width="0.6"/>
<text x="-0.05" y="0" font-family="Liberation Serif, serif" font-size="15.5" font-weight="normal" text-anchor="middle" fill="#1a1a1a" stroke="#1a1a1a" stroke-width="0.35" transform="translate(145.9,693.2) scale(1.045,1)">6–øF</text>
<line x1="124.5" y1="696" x2="161.9" y2="696" stroke="#444"/>
<line x1="124.5" y1="696" x2="110.7" y2="736.5" stroke="#444"/>
<polygon points="118.79,712.75 119.21,706.55 122.24,707.58" fill="#333" stroke="none"/>
<polygon points="115.44,722.58 115.02,728.78 111.99,727.75" fill="#333" stroke="none"/>
<line x1="40.3" y1="718" x2="60" y2="718" stroke-width="0.9" stroke="#444"/>
<line x1="40.3" y1="786.7" x2="60" y2="786.7" stroke-width="0.9" stroke="#444"/>
<line x1="42.4" y1="718" x2="42.4" y2="786.7" stroke="#444"/>
<polygon points="42.4,718 40.8,725 44,725" fill="#333" stroke="none"/>
<polygon points="42.4,786.7 40.8,779.7 44,779.7" fill="#333" stroke="none"/>
<text x="0.01" y="0" font-family="Liberation Serif, serif" font-size="17.78" font-weight="bold" text-anchor="middle" fill="#1a1a1a" stroke="none" transform="translate(39.8,752.7) rotate(-90) scale(0.628,1)">H</text>
<line x1="126.7" y1="718" x2="149" y2="718" stroke-width="0.9" stroke="#444"/>
<line x1="126.7" y1="870.7" x2="149" y2="870.7" stroke-width="0.9" stroke="#444"/>
<line x1="146.3" y1="718" x2="146.3" y2="870.7" stroke="#444"/>
<polygon points="146.3,718 144.7,725 147.9,725" fill="#333" stroke="none"/>
<polygon points="146.3,870.7 144.7,863.7 147.9,863.7" fill="#333" stroke="none"/>
<text x="0.26" y="0" font-family="Liberation Serif, serif" font-size="18.69" font-weight="bold" text-anchor="middle" fill="#1a1a1a" stroke="none" transform="translate(144.3,793.7) rotate(-90) scale(0.718,1)">C</text>
<line x1="126.7" y1="707.7" x2="167.2" y2="707.7" stroke-width="0.9" stroke="#444"/>
<line x1="126.7" y1="879.8" x2="167.2" y2="879.8" stroke-width="0.9" stroke="#444"/>
<line x1="165" y1="707.7" x2="165" y2="879.8" stroke="#444"/>
<polygon points="165,707.7 163.4,714.7 166.6,714.7" fill="#333" stroke="none"/>
<polygon points="165,879.8 163.4,872.8 166.6,872.8" fill="#333" stroke="none"/>
<text x="-0.02" y="0" font-family="Liberation Serif, serif" font-size="18.24" font-weight="bold" text-anchor="middle" fill="#1a1a1a" stroke="none" transform="translate(163.3,794.1) rotate(-90) scale(0.654,1)">A</text>
<line x1="28.5" y1="879.8" x2="60.5" y2="879.8" stroke-width="0.9" stroke="#444"/>
<line x1="30.7" y1="827" x2="30.7" y2="879.8" stroke="#444"/>
<polygon points="30.7,827.5 29.1,834.5 32.3,834.5" fill="#333" stroke="none"/>
<polygon points="30.7,879.8 29.1,872.8 32.3,872.8" fill="#333" stroke="none"/>
<text x="0.3" y="0" font-family="Liberation Serif, serif" font-size="17.02" font-weight="bold" text-anchor="middle" fill="#1a1a1a" stroke="none" transform="translate(28.1,852.8) rotate(-90) scale(0.766,1)">E</text>
<line x1="69.5" y1="875" x2="69.5" y2="903.7" stroke-width="0.9" stroke="#444"/>
<line x1="118.1" y1="875" x2="118.1" y2="903.7" stroke-width="0.9" stroke="#444"/>
<line x1="69.5" y1="902.2" x2="118.1" y2="902.2" stroke="#444"/>
<polygon points="69.5,902.2 76.5,900.6 76.5,903.8" fill="#333" stroke="none"/>
<polygon points="118.1,902.2 111.1,900.6 111.1,903.8" fill="#333" stroke="none"/>
<text x="0.26" y="0" font-family="Liberation Serif, serif" font-size="16.26" font-weight="bold" text-anchor="middle" fill="#1a1a1a" stroke="none" transform="translate(93.9,899.5) scale(0.865,1)">D</text>
<line x1="60.5" y1="879.8" x2="60.5" y2="923" stroke-width="0.9" stroke="#444"/>
<line x1="126.7" y1="879.8" x2="126.7" y2="923" stroke-width="0.9" stroke="#444"/>
<line x1="60.5" y1="920.8" x2="126.7" y2="920.8" stroke="#444"/>
<polygon points="60.5,920.8 67.5,919.2 67.5,922.4" fill="#333" stroke="none"/>
<polygon points="126.7,920.8 119.7,919.2 119.7,922.4" fill="#333" stroke="none"/>
<text x="0.1" y="0" font-family="Liberation Serif, serif" font-size="16.26" font-weight="bold" text-anchor="middle" fill="#1a1a1a" stroke="none" transform="translate(93.9,918.7) scale(0.911,1)">B</text>
</g>
<text x="157.6" y="645" font-family="Liberation Sans, sans-serif" font-size="15.5" fill="#1e1e1e" stroke="#1e1e1e" stroke-width="0.35" letter-spacing="1">扳手位</text>
<text x="157.8" y="660.4" font-family="Liberation Sans, sans-serif" font-size="10" fill="#555" letter-spacing="0.15">Hand position</text>
<!--/DRAW-->
<g class="t" fill="#333">
<text x="20" y="475.4" font-size="16.5" letter-spacing="1.5">安装外观尺寸代码:</text>
<text x="20" y="495.6" font-size="16.8" letter-spacing="0.77">Install the appearance size code:</text>
<text x="15.3" y="962.2" font-size="11.5" letter-spacing="1.35">注：S为增压缸的总行程。</text>
<text x="15" y="976.7" font-size="12.4" letter-spacing="0.4">Note: S is the total stroke of the turbocharged cylinder.</text>
</g>
</svg>
</body></html>
